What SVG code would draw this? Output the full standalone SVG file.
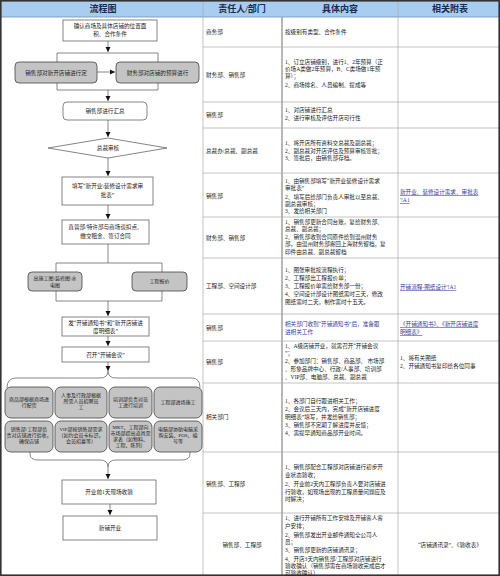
<svg xmlns="http://www.w3.org/2000/svg" width="500" height="576" viewBox="0 0 500 576">
<style>
text{font-family:"Liberation Serif","Noto Sans CJK SC",serif;fill:#222;}
.h{font-size:9px;font-weight:bold;text-anchor:middle;fill:#1a2a50;}
.t{font-size:5.6px;}
.c{font-size:5.6px;text-anchor:middle;}
.s{font-size:5px;text-anchor:middle;}
.l{font-size:5.6px;fill:#3a3a9a;text-decoration:underline;}
.b{fill:#fff;stroke:#666;stroke-width:0.8;}
.g{fill:#c4c4c4;stroke:#444;stroke-width:0.8;}
.ln{fill:none;stroke:#555;stroke-width:0.7;}
.grid{stroke:#aaa;stroke-width:0.7;}
</style>
<defs>
<marker id="ah" markerWidth="6" markerHeight="6" refX="5" refY="3" orient="auto" markerUnits="userSpaceOnUse"><path d="M0,0.5 L5,3 L0,5.5 Z" fill="#111"/></marker>
</defs>
<rect x="0" y="0" width="500" height="576" fill="#fff"/>
<g id="header">
<rect x="0" y="0" width="500" height="17" fill="#a9cdf0" stroke="#6c8fb8" stroke-width="0.8"/>
<text class="h" x="103" y="12">流程图</text>
<text class="h" x="242" y="12">责任人/部门</text>
<text class="h" x="340" y="12">具体内容</text>
<text class="h" x="450" y="12">相关附表</text>
</g>
<g id="table-grid">
<line class="grid" x1="203" y1="0" x2="203" y2="576"/>
<line x1="282" y1="17" x2="282" y2="576" stroke="#999" stroke-width="1.4"/>
<line class="grid" x1="398" y1="0" x2="398" y2="576"/>
<line class="grid" x1="203" y1="47" x2="500" y2="47"/>
<line class="grid" x1="203" y1="102" x2="500" y2="102"/>
<line class="grid" x1="203" y1="128" x2="500" y2="128"/>
<line class="grid" x1="203" y1="173" x2="500" y2="173"/>
<line class="grid" x1="203" y1="217" x2="500" y2="217"/>
<line class="grid" x1="203" y1="258" x2="500" y2="258"/>
<line class="grid" x1="203" y1="314" x2="500" y2="314"/>
<line class="grid" x1="203" y1="341" x2="500" y2="341"/>
<line class="grid" x1="203" y1="383" x2="500" y2="383"/>
<line class="grid" x1="203" y1="452" x2="500" y2="452"/>
<line class="grid" x1="203" y1="513" x2="500" y2="513"/>
<rect x="0.8" y="0.8" width="498.4" height="574.4" fill="none" stroke="#333" stroke-width="1.6"/>
</g>
<g id="table-text">
<text class="t" x="206" y="34">商务部</text>
<text class="t" x="285" y="34">按级别有类型、合作条件</text>
<text class="t" x="206" y="77">财务部、销售部</text>
<text class="t" x="285" y="64">1、订立店铺级别，进行1、2年预算（正</text>
<text class="t" x="285" y="71">价场A类做2年预算，B、C类场做1年预</text>
<text class="t" x="285" y="78">算）；</text>
<text class="t" x="285" y="87">2、商场排名、人员编制、提成等</text>
<text class="t" x="206" y="117">销售部</text>
<text class="t" x="285" y="112">1、对店铺进行汇总</text>
<text class="t" x="285" y="120">2、进行审核及评估开店可行性</text>
<text class="t" x="206" y="153">总裁办/总裁、副总裁</text>
<text class="t" x="285" y="145">1、将开店所有资料交总裁及副总裁；</text>
<text class="t" x="285" y="153">2、副总裁对开店评估及预算审核签批；</text>
<text class="t" x="285" y="160">3、签批后，由销售部存档。</text>
<text class="t" x="206" y="198">销售部</text>
<text class="t" x="285" y="183">1、由销售部填写“新开业装修设计需求</text>
<text class="t" x="285" y="190">审批表”</text>
<text class="t" x="285" y="199">2、填写后给部门负责人审批以至总裁、</text>
<text class="t" x="285" y="206">副总裁审核；</text>
<text class="t" x="285" y="213">3、发给相关部门</text>
<text class="l" x="400" y="194">新开业、装修设计需求、审批表</text>
<text class="l" x="400" y="202">'!A1</text>
<text class="t" x="206" y="240">财务部、销售部</text>
<text class="t" x="285" y="224">1、销售部更新合同台账，复给财务部、</text>
<text class="t" x="285" y="231">总裁、副总裁；</text>
<text class="t" x="285" y="239">2、销售部收到合同原件给到温州财务</text>
<text class="t" x="285" y="246">部，由温州财务部寄回上海财务留档，复</text>
<text class="t" x="285" y="254">印件由总裁、副总裁留档</text>
<text class="t" x="206" y="288">工程部、空间设计部</text>
<text class="t" x="285" y="272">1、图张审批按流程执行；</text>
<text class="t" x="285" y="280">2、工程部出工程报价单；</text>
<text class="t" x="285" y="288">3、工程报价单需给财务部一份；</text>
<text class="t" x="285" y="296">4、空间设计部设计图纸需时三天，修改</text>
<text class="t" x="285" y="304">图纸需时二天，制作需时十五天。</text>
<text class="l" x="400" y="289">开铺流程-图纸设计'!A1</text>
<text class="t" x="206" y="330">销售部</text>
<text class="t" x="285" y="326" fill="#3a3a9a" style="fill:#3a3a9a">相关部门收到“开铺通知书”后，准备跟</text>
<text class="t" x="285" y="334" style="fill:#3a3a9a">进相关工作</text>
<text class="l" x="400" y="326">《开铺通知书》、《新开店铺进度</text>
<text class="l" x="400" y="334">明细表》</text>
<text class="t" x="206" y="364">销售部</text>
<text class="t" x="285" y="348">1、A级店铺开业，就需召开“开铺会议</text>
<text class="t" x="285" y="355">”；</text>
<text class="t" x="285" y="363">2、参加部门：销售部、商品部、 市场部</text>
<text class="t" x="285" y="371">、形象品牌中心、行政/人事部、培训部</text>
<text class="t" x="285" y="379">、VIP部、电脑部、总裁、副总裁</text>
<text class="t" x="400" y="360">1、将有关图纸</text>
<text class="t" x="400" y="368">2、开铺通知书复印给各位同事</text>
<text class="t" x="206" y="419">相关部门</text>
<text class="t" x="285" y="403">1、各部门自行跟进相关工作；</text>
<text class="t" x="285" y="411">2、会议后三天内，完成“新开店铺进度</text>
<text class="t" x="285" y="419">明细表”填写，并发给销售部；</text>
<text class="t" x="285" y="427">3、销售部不定期了解进度并反馈；</text>
<text class="t" x="285" y="435">4、需提早通知商品部开业时间。</text>
<text class="t" x="206" y="486">销售部、工程部</text>
<text class="t" x="285" y="469">1、销售部配合工程部对店铺进行初步开</text>
<text class="t" x="285" y="477">业状态验收；</text>
<text class="t" x="285" y="486">2、开业前2天内工程部负责人要对店铺进</text>
<text class="t" x="285" y="494">行验收，如现场出现的工程质量问题应及</text>
<text class="t" x="285" y="501">时解决；</text>
<text class="c" x="242" y="547">销售部、工程部</text>
<text class="t" x="285" y="520">1、进行开铺所有工作安排及开铺客人客</text>
<text class="t" x="285" y="528">户安排；</text>
<text class="t" x="285" y="537">2、销售部发出开业邮件通知全公司人</text>
<text class="t" x="285" y="544">员；</text>
<text class="t" x="285" y="552">3、销售部更新的店铺通讯录；</text>
<text class="t" x="285" y="561">4、开店3天内销售部/工程部对店铺进行</text>
<text class="t" x="285" y="568">验收确认（销售部需在商场验收完成后才</text>
<text class="t" x="285" y="575">可验收确认）</text>
<text class="c" x="450" y="547">“店铺通讯录”、《验收表》</text>
</g>
<g id="connectors">
<line class="ln" x1="108" y1="41" x2="108" y2="52" marker-end="url(#ah)"/>
<path class="ln" d="M57,62 L57,53 L158,53 L158,62"/>
<line class="ln" x1="97" y1="72" x2="115" y2="72" marker-end="url(#ah)"/>
<path class="ln" d="M57,83 L57,90 L158,90 L158,83"/>
<line class="ln" x1="108" y1="90" x2="108" y2="101" marker-end="url(#ah)"/>
<line class="ln" x1="108" y1="120" x2="108" y2="137" marker-end="url(#ah)"/>
<line class="ln" x1="108" y1="158" x2="108" y2="176" marker-end="url(#ah)"/>
<line class="ln" x1="108" y1="205" x2="108" y2="219" marker-end="url(#ah)"/>
<line class="ln" x1="108" y1="244" x2="108" y2="263"/>
<path class="ln" d="M56,272 L56,263 L162,263 L162,272"/>
<path class="ln" d="M56,291 L56,301 L162,301 L162,291"/>
<line class="ln" x1="108" y1="301" x2="108" y2="316" marker-end="url(#ah)"/>
<line class="ln" x1="108" y1="336" x2="108" y2="346" marker-end="url(#ah)"/>
<line class="ln" x1="108" y1="362" x2="108" y2="371" marker-end="url(#ah)"/>
<path class="ln" d="M108,371 Q108,378 100,378 L16,378 Q7,378 7,388"/>
<path class="ln" d="M108,371 Q108,378 116,378 L192,378 Q200,378 200,388"/>
<path class="ln" d="M30,452 L30,454 Q30,460 38,460 L100,460 Q108,460 108,467 Q108,460 116,460 L182,460 Q190,460 190,454 L190,452"/>
<line class="ln" x1="108" y1="467" x2="108" y2="479" marker-end="url(#ah)"/>
<line class="ln" x1="110" y1="504" x2="110" y2="515" marker-end="url(#ah)"/>
</g>
<g id="n1"><rect class="b" x="63" y="20" width="94" height="21"/><text class="c" x="110" y="28">确认商场及具体店铺的位置面</text><text class="c" x="110" y="36">积、合作条件</text></g>
<g id="n2"><rect class="g" x="15" y="62" width="82" height="21" rx="4"/><text class="c" x="56" y="74.5">销售部对新开店铺进行定</text></g>
<g id="n3"><rect class="g" x="116" y="62" width="83" height="21" rx="4"/><text class="c" x="157.5" y="74.5">财务部对店铺的预算进行</text></g>
<g id="n4"><rect class="b" x="63" y="102" width="84" height="18" rx="4"/><text class="c" x="105" y="113">销售部进行汇总</text></g>
<g id="n5"><polygon class="b" points="48,148 108,138 167,148 108,158"/><text class="c" x="108" y="150">总裁审核</text></g>
<g id="n6"><rect class="b" x="62" y="177" width="91" height="28"/><text class="c" x="107.5" y="188">填写“新开业\装修设计需求审</text><text class="c" x="107.5" y="197">批表”</text></g>
<g id="n7"><rect class="b" x="62" y="220" width="87" height="24"/><text class="c" x="105.5" y="229">直营部/特许部与商场谈扣点、</text><text class="c" x="105.5" y="238">缴交租金、签订合同</text></g>
<g id="n8"><rect class="g" x="28" y="272" width="54" height="19" rx="4"/><text class="s" x="55" y="280">出施工图\装修图\水</text><text class="s" x="55" y="287">电图</text></g>
<g id="n9"><rect class="g" x="132" y="272" width="55" height="19" rx="4"/><text class="s" x="159.5" y="283">工程报价</text></g>
<g id="n10"><rect class="b" x="62" y="317" width="87" height="19"/><text class="c" x="105.5" y="325">发“开铺通知书”和“新开店铺进</text><text class="c" x="105.5" y="333">度明细表”</text></g>
<g id="n11"><rect class="b" x="62" y="347" width="87" height="15"/><text class="c" x="105.5" y="357">召开“开铺会议”</text></g>
<g id="n12"><rect class="g" x="5" y="387" width="48" height="31" rx="6"/><text class="s" x="29" y="401">商品部根据商场进</text><text class="s" x="29" y="407">行配货</text></g>
<g id="n13"><rect class="g" x="55" y="387" width="52" height="31" rx="6"/><text class="s" x="81" y="397">人事及行政部根据</text><text class="s" x="81" y="403">所需人员招聘员</text><text class="s" x="81" y="409">工</text></g>
<g id="n14"><rect class="g" x="109" y="387" width="43" height="31" rx="6"/><text class="s" x="130.5" y="401">培训部负责对员</text><text class="s" x="130.5" y="407">工进行培训</text></g>
<g id="n15"><rect class="g" x="154" y="387" width="48" height="31" rx="6"/><text class="s" x="178" y="404">工程部进场施工</text></g>
<g id="n16"><rect class="g" x="5" y="421" width="48" height="31" rx="6"/><text class="s" x="29" y="431">销售部/工程部负</text><text class="s" x="29" y="437">责对店铺进行验收，</text><text class="s" x="29" y="443">确保店铺</text></g>
<g id="n17"><rect class="g" x="55" y="421" width="52" height="31" rx="6"/><text class="s" x="81" y="431">VIP部按销售部需求</text><text class="s" x="81" y="437">（如约会员卡标识，</text><text class="s" x="81" y="443">会员招募等）</text></g>
<g id="n18"><rect class="g" x="109" y="421" width="43" height="31" rx="6"/><text class="s" x="130.5" y="429">MKT、工程部向</text><text class="s" x="130.5" y="435">市场部提出道具需</text><text class="s" x="130.5" y="441">求表（如物料、</text><text class="s" x="130.5" y="447">工程、陈列）</text></g>
<g id="n19"><rect class="g" x="154" y="421" width="48" height="31" rx="6"/><text class="s" x="178" y="431">电脑部协助电脑采</text><text class="s" x="178" y="437">购安装、POS、编</text><text class="s" x="178" y="443">号等</text></g>
<g id="n20"><rect class="b" x="62" y="480" width="94" height="24"/><text class="c" x="109" y="494">开业前1天现场收验</text></g>
<g id="n21"><rect class="b" x="63" y="516" width="94" height="24"/><text class="c" x="110" y="530">新铺开业</text></g>
</svg>
